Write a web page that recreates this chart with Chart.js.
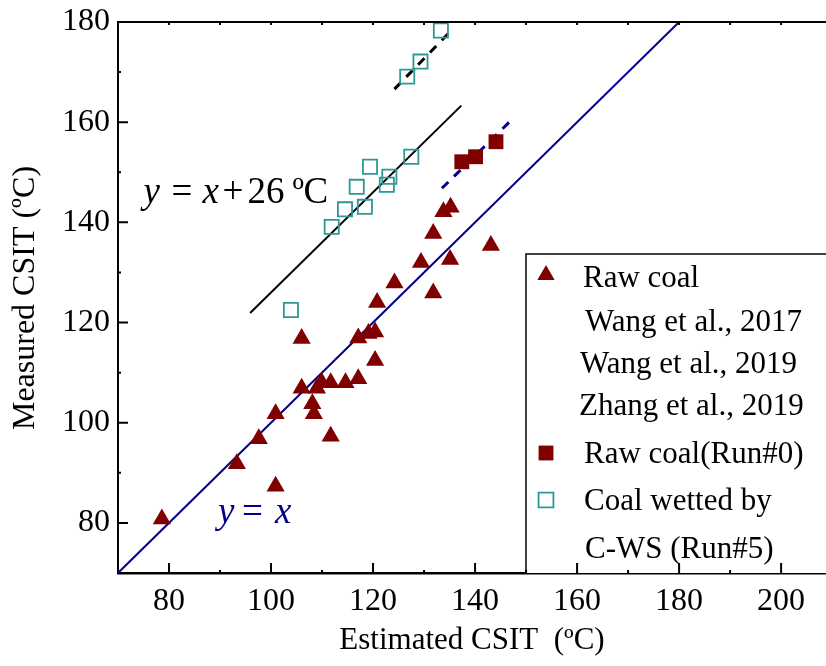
<!DOCTYPE html>
<html>
<head>
<meta charset="utf-8">
<script src="https://cdn.jsdelivr.net/npm/chart.js@4.4.1/dist/chart.umd.min.js"></script>
<style>
  body { margin: 0; background: #fff; }
  canvas { display: block; }
</style>
</head>
<body>
<canvas id="csitChart" width="826" height="666"></canvas>
<script>
// Raw coal, literature data (filled triangles)
const rawCoalX = [78.6, 93.3, 97.6, 100.9, 100.9, 106.0, 106.0, 108.1, 108.4, 109.0, 109.9, 111.7, 111.7, 114.6,
                  117.1, 117.1, 119.1, 120.4, 120.4, 120.8, 124.2, 131.8, 129.4, 135.1, 131.8, 133.8, 135.2, 143.1];
const rawCoalY = [80.8, 91.8, 96.8, 101.8, 87.3, 116.8, 106.9, 103.8, 101.8, 106.9, 108.1, 108.0, 97.3, 108.0,
                  108.8, 116.9, 117.8, 118.1, 112.4, 124.0, 127.9, 125.9, 132.0, 132.6, 137.8, 142.1, 143.0, 135.4];

// Raw coal, Run#0 (filled squares)
const run0X = [137.4, 140.1, 144.1];
const run0Y = [152.1, 153.1, 156.1];

// Coal wetted by C-WS, Run#5 (open squares)
const run5X = [133.3, 129.3, 126.7, 127.5, 119.4, 116.8, 123.2, 122.7, 118.4, 114.5, 111.9, 103.9];
const run5Y = [178.3, 172.1, 169.1, 153.1, 151.1, 147.1, 149.1, 147.5, 143.1, 142.6, 139.1, 122.5];

// reference and fitted lines (end points)
const identityX = [70, 180];
const identityY = [70, 180];
const offsetX = [95.9, 137.3];      // y = x + 26
const offsetY = [121.9, 163.3];
const run5FitX = [124.2, 135.8];
const run5FitY = [166.6, 178.8];
const run0FitX = [133.5, 147.0];
const run0FitY = [146.8, 160.3];

const xTicks = [80, 100, 120, 140, 160, 180, 200];
const yTicks = [80, 100, 120, 140, 160, 180];
const xMinor = [90, 110, 130, 150, 170, 190];
const yMinor = [90, 110, 130, 150, 170];

const DARK_RED = '#800000';
const TEAL = '#2f9797';
const NAVY = '#00008b';
const SERIF = '"Liberation Serif", "Times New Roman", serif';

const toPoints = (xs, ys) => xs.map((x, i) => ({ x: x, y: ys[i] }));

Chart.defaults.font.family = SERIF;
Chart.defaults.color = '#000';

// inward tick marks plus the top frame line
const frameTicks = {
    id: 'frameTicks',
    afterDraw(chart) {
        const ctx = chart.ctx;
        const xs = chart.scales.x, ys = chart.scales.y;
        const a = chart.chartArea;
        ctx.save();
        ctx.strokeStyle = '#000';
        ctx.lineWidth = 2;
        ctx.beginPath();
        ctx.moveTo(a.left - 1, a.top);
        ctx.lineTo(a.right, a.top);
        ctx.stroke();

        ctx.beginPath();
        xTicks.forEach(v => {
            const px = xs.getPixelForValue(v);
            ctx.moveTo(px, a.bottom); ctx.lineTo(px, a.bottom - 10);
            ctx.moveTo(px, a.top); ctx.lineTo(px, a.top + 3);
        });
        xMinor.forEach(v => {
            const px = xs.getPixelForValue(v);
            ctx.moveTo(px, a.bottom); ctx.lineTo(px, a.bottom - 3);
            ctx.moveTo(px, a.top); ctx.lineTo(px, a.top + 3);
        });
        yTicks.forEach(v => {
            const py = ys.getPixelForValue(v);
            ctx.moveTo(a.left, py); ctx.lineTo(a.left + 10, py);
        });
        yMinor.forEach(v => {
            const py = ys.getPixelForValue(v);
            ctx.moveTo(a.left, py); ctx.lineTo(a.left + 3, py);
        });
        ctx.stroke();
        ctx.restore();
    }
};

// equation labels: each piece [text, offset from start, italic]
function drawPieces(ctx, pieces, x, y, size, color) {
    ctx.fillStyle = color;
    ctx.textBaseline = 'alphabetic';
    ctx.textAlign = 'left';
    pieces.forEach(([txt, dx, italic]) => {
        ctx.font = (italic ? 'italic ' : '') + size + 'px ' + SERIF;
        ctx.fillText(txt, x + dx, y);
    });
}

const equations = {
    id: 'equations',
    afterDatasetsDraw(chart) {
        const ctx = chart.ctx;
        const xs = chart.scales.x, ys = chart.scales.y;
        ctx.save();
        drawPieces(ctx, [['y', 0, true], ['=', 28, false], ['x', 59, true], ['+', 79, false],
                         ['26', 104, false], ['\u00ba', 149, false], ['C', 160, false]],
            xs.getPixelForValue(75.0), ys.getPixelForValue(143.8), 37, '#000');
        drawPieces(ctx, [['y', 0, true], ['=', 24, false], ['x', 57, true]],
            xs.getPixelForValue(89.6), ys.getPixelForValue(80.0), 37, NAVY);

        // vertical axis title
        ctx.translate(26, 298);
        ctx.rotate(-Math.PI / 2);
        ctx.fillStyle = '#000';
        ctx.font = '32px ' + SERIF;
        ctx.textAlign = 'center';
        ctx.textBaseline = 'middle';
        ctx.fillText('Measured CSIT (\u00baC)', 0, 0);
        ctx.restore();
    }
};

// boxed legend in the lower right corner
const legendRows = [
    { text: 'Raw coal', dx: 57, y: 287, ds: 0 },
    { text: 'Wang et al., 2017', dx: 59, y: 331 },
    { text: 'Wang et al., 2019', dx: 54, y: 373 },
    { text: 'Zhang et al., 2019', dx: 53, y: 415 },
    { text: 'Raw coal(Run#0)', dx: 58, y: 463, ds: 1 },
    { text: 'Coal wetted by', dx: 58, y: 510, ds: 2 },
    { text: 'C-WS (Run#5)', dx: 59, y: 558 }
];

const boxLegend = {
    id: 'boxLegend',
    afterDatasetsDraw(chart) {
        const ctx = chart.ctx;
        const a = chart.chartArea;
        const left = 526, top = 254;
        ctx.save();
        ctx.fillStyle = '#fff';
        ctx.fillRect(left, top, a.right - left + 2, a.bottom - top);
        ctx.strokeStyle = '#000';
        ctx.lineWidth = 1.5;
        ctx.beginPath();
        ctx.moveTo(left, a.bottom);
        ctx.lineTo(left, top);
        ctx.lineTo(a.right + 2, top);
        ctx.stroke();

        legendRows.forEach(row => {
            if (row.ds !== undefined) {
                const d = chart.data.datasets[row.ds];
                ctx.fillStyle = d.backgroundColor;
                ctx.strokeStyle = d.borderColor;
                ctx.lineWidth = d.borderWidth;
                const cy = row.ds === 0 ? row.y - 12 : row.y - 10;
                Chart.helpers.drawPoint(ctx, {
                    pointStyle: d.pointStyle, radius: row.ds === 0 ? 10 : 10.5,
                    rotation: 0, borderWidth: d.borderWidth
                }, left + 20, cy);
            }
            ctx.fillStyle = '#000';
            ctx.font = '31px ' + SERIF;
            ctx.textBaseline = 'alphabetic';
            ctx.fillText(row.text, left + row.dx, row.y);
        });
        ctx.restore();
    }
};

const ctx = document.getElementById('csitChart').getContext('2d');
const csitChart = new Chart(ctx, {
    type: 'scatter',
    data: {
        datasets: [
            {
                label: 'Raw coal',
                data: toPoints(rawCoalX, rawCoalY),
                pointStyle: 'triangle',
                pointRadius: 10.5,
                backgroundColor: DARK_RED,
                borderColor: DARK_RED,
                borderWidth: 0
            },
            {
                label: 'Raw coal(Run#0)',
                data: toPoints(run0X, run0Y),
                pointStyle: 'rect',
                pointRadius: 10.5,
                backgroundColor: DARK_RED,
                borderColor: DARK_RED,
                borderWidth: 0
            },
            {
                label: 'Coal wetted by C-WS (Run#5)',
                data: toPoints(run5X, run5Y),
                pointStyle: 'rect',
                pointRadius: 10,
                backgroundColor: 'rgba(255,255,255,0)',
                borderColor: TEAL,
                borderWidth: 1.8
            },
            {
                type: 'line',
                label: 'y = x',
                data: toPoints(identityX, identityY),
                borderColor: NAVY,
                borderWidth: 2,
                pointRadius: 0,
                showLine: true
            },
            {
                type: 'line',
                label: 'y = x + 26',
                data: toPoints(offsetX, offsetY),
                borderColor: '#000',
                borderWidth: 2,
                pointRadius: 0,
                showLine: true
            },
            {
                type: 'line',
                label: 'Run#5 fit',
                data: toPoints(run5FitX, run5FitY),
                borderColor: '#000',
                borderWidth: 3,
                borderDash: [9, 8],
                pointRadius: 0,
                showLine: true
            },
            {
                type: 'line',
                label: 'Run#0 fit',
                data: toPoints(run0FitX, run0FitY),
                borderColor: NAVY,
                borderWidth: 3,
                borderDash: [9, 8],
                pointRadius: 0,
                showLine: true
            }
        ]
    },
    options: {
        responsive: false,
        animation: false,
        layout: { autoPadding: false, padding: { top: 22, right: 0, left: 0, bottom: 0 } },
        plugins: {
            legend: { display: false },
            tooltip: { enabled: false }
        },
        scales: {
            x: {
                type: 'linear',
                min: 70,
                max: 208.8,
                grid: { display: false, drawTicks: false },
                border: { display: true, color: '#000', width: 2.5 },
                ticks: { font: { size: 32 }, color: '#000', padding: 9 },
                afterBuildTicks: s => { s.ticks = xTicks.map(v => ({ value: v })); },
                afterFit: s => { s.height = 93; s.paddingLeft = 0; s.paddingRight = 0; },
                title: {
                    display: true,
                    text: 'Estimated CSIT  (\u00baC)',
                    font: { size: 31 },
                    color: '#000',
                    padding: { top: 0, bottom: 7 }
                }
            },
            y: {
                type: 'linear',
                min: 70,
                max: 180,
                grid: { display: false, drawTicks: false },
                border: { display: true, color: '#000', width: 2 },
                ticks: { font: { size: 32 }, color: '#000', padding: 8 },
                afterBuildTicks: s => { s.ticks = yTicks.map(v => ({ value: v })); },
                afterFit: s => { s.width = 118; s.paddingTop = 0; s.paddingBottom = 0; }
            }
        }
    },
    plugins: [equations, boxLegend, frameTicks]
});
</script>
</body>
</html>
